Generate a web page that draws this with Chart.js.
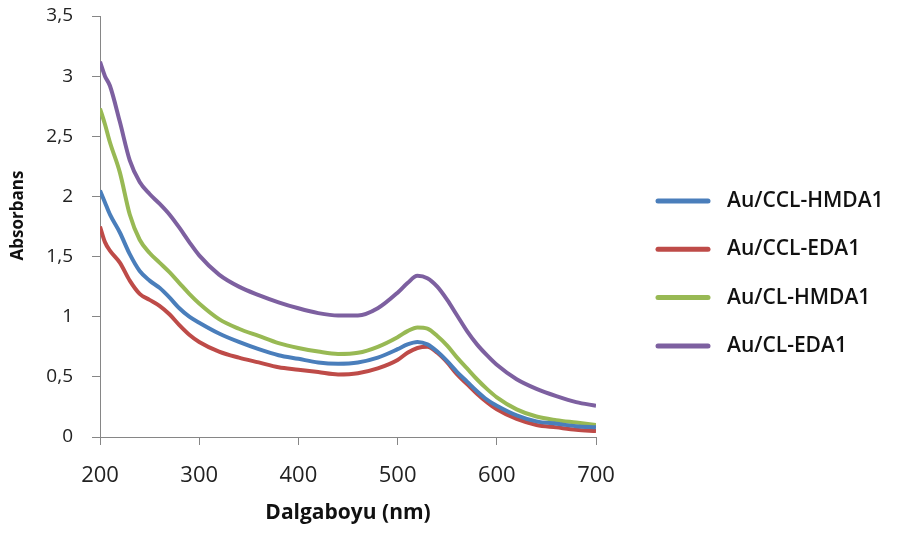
<!DOCTYPE html>
<html>
<head>
<meta charset="utf-8">
<script src="https://cdn.jsdelivr.net/npm/chart.js@4.4.0/dist/chart.umd.min.js"></script>
<style>
  html, body { margin: 0; padding: 0; background: #fff; }
  #wrap { width: 902px; height: 533px; }
</style>
</head>
<body>
<div id="wrap"><canvas id="mycanvas" width="902" height="533"></canvas></div>
<script>
// Dalgaboyu (nm)
var wavelength = [200,205,210,220,230,240,250,260,270,280,290,300,320,340,360,380,400,420,440,460,480,500,510,520,530,540,550,560,570,580,590,600,620,640,660,680,700];

var ccl_hmda1 = [2.05,1.95,1.85,1.70,1.52,1.38,1.30,1.24,1.16,1.07,1.00,0.95,0.86,0.79,0.73,0.68,0.65,0.62,0.61,0.62,0.66,0.73,0.77,0.79,0.77,0.71,0.63,0.54,0.46,0.38,0.31,0.26,0.18,0.13,0.11,0.09,0.08];
var ccl_eda1  = [1.75,1.62,1.55,1.45,1.30,1.19,1.14,1.09,1.02,0.93,0.85,0.79,0.71,0.66,0.62,0.58,0.56,0.54,0.52,0.53,0.57,0.64,0.70,0.74,0.75,0.70,0.62,0.52,0.44,0.36,0.29,0.23,0.15,0.10,0.08,0.06,0.05];
var cl_hmda1  = [2.73,2.60,2.45,2.20,1.85,1.64,1.53,1.45,1.37,1.28,1.19,1.11,0.98,0.90,0.84,0.78,0.74,0.71,0.69,0.70,0.75,0.83,0.88,0.91,0.90,0.84,0.76,0.66,0.57,0.48,0.40,0.33,0.23,0.17,0.14,0.12,0.10];
var cl_eda1   = [3.12,3.00,2.92,2.62,2.30,2.12,2.02,1.94,1.85,1.74,1.62,1.51,1.35,1.25,1.18,1.12,1.07,1.03,1.01,1.01,1.07,1.20,1.28,1.34,1.32,1.25,1.14,1.01,0.88,0.77,0.68,0.60,0.48,0.40,0.34,0.29,0.26];

var seriesNames = ['Au/CCL-HMDA1', 'Au/CCL-EDA1', 'Au/CL-HMDA1', 'Au/CL-EDA1'];
var seriesColors = ['#4a7ebb', '#be4b48', '#98b954', '#7d60a0'];
var seriesValues = [ccl_hmda1, ccl_eda1, cl_hmda1, cl_eda1];

var axisGray = '#868686';

function toPoints(vals) {
	var pts = [];
	for (var i in vals) {
		pts.push({x: wavelength[i], y: vals[i]});
	}
	return pts;
}

var datasets = [];
for (var s = 0; s < seriesNames.length; s++) {
	datasets.push({
		label: seriesNames[s],
		data: toPoints(seriesValues[s]),
		borderColor: seriesColors[s],
		backgroundColor: seriesColors[s],
		borderWidth: 4,
		pointRadius: 0,
		cubicInterpolationMode: 'monotone',
		fill: false
	});
}

// legend drawn at the right like the original, built from the datasets
var sideLegend = {
	id: 'sideLegend',
	afterDraw: function(chart) {
		var c = chart.ctx;
		c.save();
		chart.data.datasets.forEach(function(ds, i) {
			var y = 201 + i * 48.3;
			c.strokeStyle = ds.borderColor;
			c.lineWidth = 5;
			c.lineCap = 'round';
			c.beginPath();
			c.moveTo(658, y);
			c.lineTo(708, y);
			c.stroke();
			c.fillStyle = '#111';
			c.font = '600 21px "Open Sans"';
			c.textBaseline = 'middle';
			c.textAlign = 'left';
			c.fillText(ds.label, 727, y);
		});
		c.restore();
	}
};

var ctx = document.getElementById('mycanvas');

var chart = new Chart(ctx, {
	type: 'line',
	data: { datasets: datasets },
	plugins: [sideLegend],
	options: {
		responsive: false,
		animation: false,
		layout: { padding: { top: 16, right: 306, bottom: 0, left: 0 } },
		plugins: {
			tooltip: { enabled: false },
			legend: { display: false }
		},
		scales: {
			x: {
				type: 'linear',
				min: 200,
				max: 700,
				border: { color: axisGray, width: 1 },
				grid: { drawOnChartArea: false, color: axisGray, tickLength: 8 },
				ticks: { stepSize: 100, color: '#222', padding: 18, font: { family: 'Open Sans', size: 22 } },
				title: {
					display: true,
					text: 'Dalgaboyu (nm)',
					color: '#111',
					font: { family: 'Open Sans', size: 21, weight: 'bold' },
					padding: { top: 0, bottom: 7 }
				},
				afterFit: function(scale) { scale.height = 96; }
			},
			y: {
				min: 0,
				max: 3.5,
				border: { color: axisGray, width: 1 },
				grid: { drawOnChartArea: false, color: axisGray, tickLength: 8 },
				ticks: {
					stepSize: 0.5,
					color: '#222',
					padding: 19,
					font: { family: 'Open Sans', size: 19 },
					callback: function(v) { return String(v).replace('.', ','); }
				},
				title: {
					display: true,
					text: '     Absorbans',
					color: '#111',
					font: { family: 'Open Sans', size: 17, weight: 'bold' },
					padding: { top: 8, bottom: 0 }
				},
				afterFit: function(scale) {
					scale.width = 100;
					scale.paddingTop = 0;
					scale.paddingBottom = 0;
				}
			}
		}
	}
});
</script>
</body>
</html>
